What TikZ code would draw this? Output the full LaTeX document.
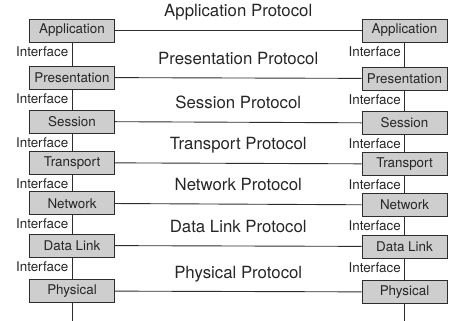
\documentclass[tikz,border=0pt]{standalone}
\usepackage{fontspec}
\setmainfont{TeX Gyre Heros}
\definecolor{boxgray}{RGB}{206,206,206}
\definecolor{linegray}{RGB}{45,45,45}
\tikzset{
  layer/.style={draw=linegray, fill=boxgray, line width=0.9pt,
    minimum width=85pt, minimum height=23pt, inner sep=0pt,
    font=\fontsize{13.4}{15}\selectfont, text=black!85},
  iface/.style={anchor=north east, font=\fontsize{13.4}{15}\selectfont, text=black!85},
  proto/.style={anchor=base, yshift=13.5pt, font=\fontsize{16.8}{19}\selectfont, text=black!85}
}

\begin{document}
\begin{tikzpicture}[x=1pt, y=-1pt, line width=0.9pt, draw=linegray]
    \useasboundingbox (0,0) rectangle (464,321);
    % host A
    \node[layer] (LA) at (72,30.5) {Application};
    \node[layer] (LP) at (72,77.5) {Presentation};
    \node[layer] (LS) at (72,121.5) {Session};
    \node[layer] (LT) at (72,162.7) {Transport};
    \node[layer] (LN) at (72,203.3) {Network};
    \node[layer] (LD) at (72,245.5) {Data Link};
    \node[layer] (LY) at (72,291) {Physical};
    % host B
    \node[layer] (RA) at (404.5,30.5) {Application};
    \node[layer] (RP) at (404.5,78.5) {Presentation};
    \node[layer] (RS) at (404.5,123) {Session};
    \node[layer] (RT) at (404.5,164) {Transport};
    \node[layer] (RN) at (404.5,205) {Network};
    \node[layer] (RD) at (404.5,246.5) {Data Link};
    \node[layer] (RY) at (404.5,292) {Physical};
    \coordinate (Lend) at (72,321);
    \coordinate (Rend) at (404.5,321);
    % interfaces
    \draw[linegray] (LA) -- (LP) -- (LS) -- (LT) -- (LN) -- (LD) -- (LY) -- (Lend);
    \draw[linegray] (RA) -- (RP) -- (RS) -- (RT) -- (RN) -- (RD) -- (RY) -- (Rend);
    \node[iface] (iLA) at (LA.south) {Interface};
    \node[iface] (iLP) at (LP.south) {Interface};
    \node[iface] (iLS) at (LS.south) {Interface};
    \node[iface] (iLT) at (LT.south) {Interface};
    \node[iface] (iLN) at (LN.south) {Interface};
    \node[iface] (iLD) at (LD.south) {Interface};
    \node[iface] (iRA) at (RA.south) {Interface};
    \node[iface] (iRP) at (RP.south) {Interface};
    \node[iface] (iRS) at (RS.south) {Interface};
    \node[iface] (iRT) at (RT.south) {Interface};
    \node[iface] (iRN) at (RN.south) {Interface};
    \node[iface] (iRD) at (RD.south) {Interface};
    % peer protocols
    \draw[linegray] (LA) -- node[proto] (pA) {Application Protocol} (RA);
    \draw[linegray] (LP) -- node[proto] (pP) {Presentation Protocol} (RP);
    \draw[linegray] (LS) -- node[proto] (pS) {Session Protocol} (RS);
    \draw[linegray] (LT) -- node[proto] (pT) {Transport Protocol} (RT);
    \draw[linegray] (LN) -- node[proto] (pN) {Network Protocol} (RN);
    \draw[linegray] (LD) -- node[proto] (pD) {Data Link Protocol} (RD);
    \draw[linegray] (LY) -- node[proto] (pY) {Physical Protocol} (RY);
\end{tikzpicture}
\end{document}
